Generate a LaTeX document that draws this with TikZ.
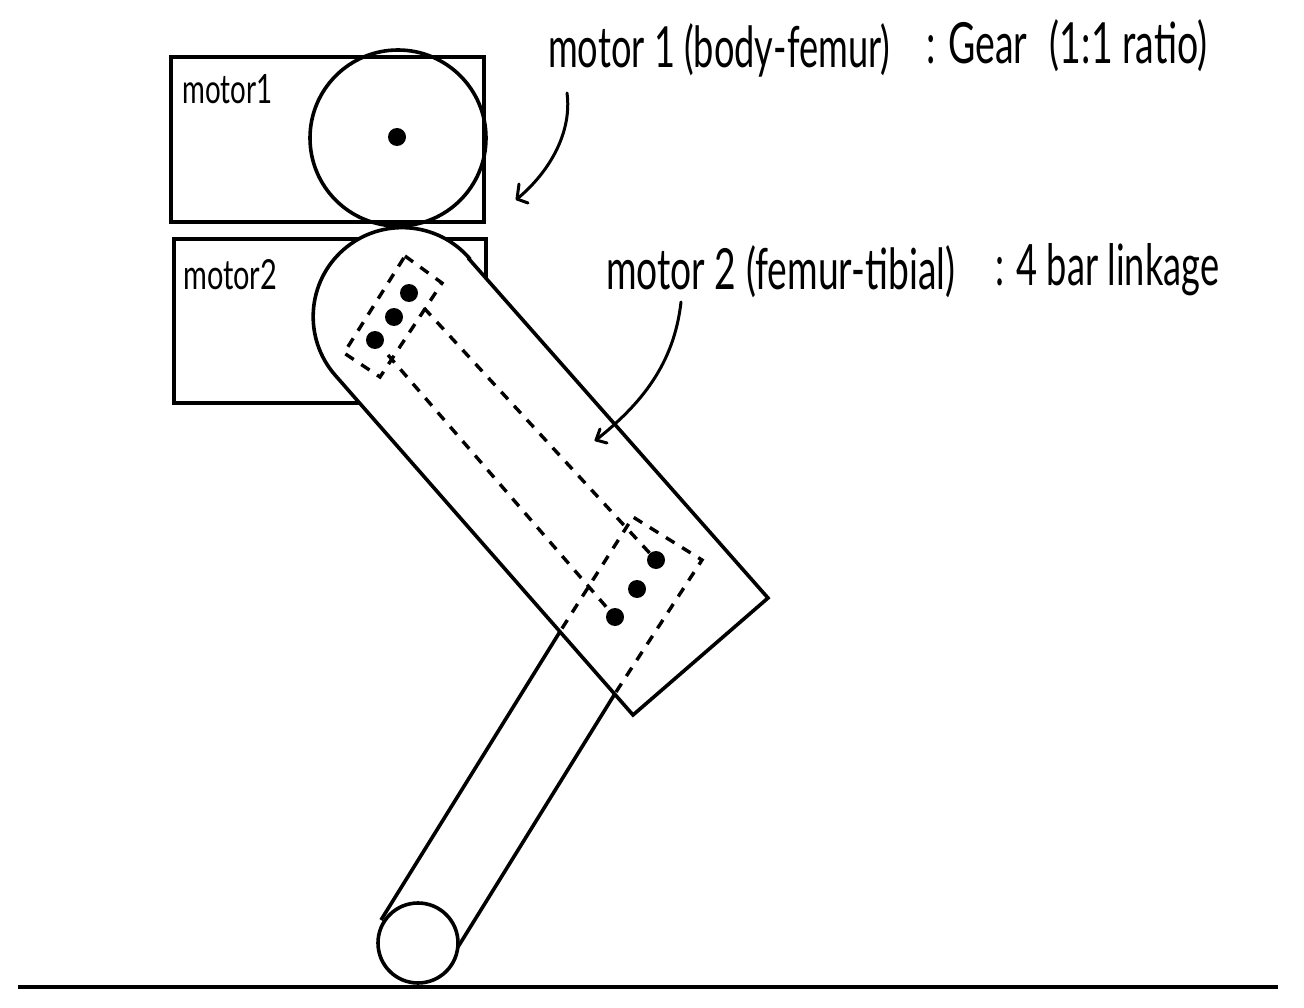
\documentclass[tikz,border=0pt]{standalone}
\usepackage{fontspec}
\setmainfont{Lato}
\tikzset{
 shape line/.style={draw=black,line width=3.6pt,line join=miter},
 dash line/.style={draw=black,line width=3.4pt,dash pattern=on 10pt off 9pt},
 pin dot/.style={circle,fill=black,inner sep=0pt,minimum size=18pt},
 wheel/.style={circle,draw=black,line width=3.6pt,fill=white,inner sep=0pt},
 hand/.style={inner sep=0pt,text=black,anchor=west},
 note arrow/.style={draw=black,line width=3pt,line cap=round,line join=round},
}
\newcommand{\handtext}[3]{\resizebox{#1pt}{#2pt}{#3}}
\begin{document}
\begin{tikzpicture}[x=1pt,y=-1pt]
\useasboundingbox (0,0) rectangle (1304,1008);
% ground
\coordinate (g1) at (18,987);
\coordinate (g2) at (1278,987);
\draw[shape line] (g1) -- (g2);
% motor boxes
\node[shape line,fill=white,minimum width=313pt,minimum height=165pt,inner sep=0pt,anchor=north west] (motorA) at (169.2,55.2) {};
\node[shape line,fill=white,minimum width=312pt,minimum height=164pt,inner sep=0pt,anchor=north west] (motorB) at (172.2,237.2) {};
\node[wheel,minimum size=176pt,fill=none] (gear) at (398,138) {};
% tibia
\coordinate (t1) at (561,630);
\coordinate (t2) at (381,920);
\coordinate (t3) at (616,692);
\coordinate (t4) at (453,955);
\draw[shape line] (t1) -- (t2);
\draw[shape line] (t3) -- (t4);
\node[wheel,minimum size=80pt] (foot) at (418,943) {};
% femur
\coordinate (f1) at (469,259);
\coordinate (f2) at (768,598);
\coordinate (f3) at (633,715);
\coordinate (f4) at (335,375);
\draw[shape line,fill=white] (f1) -- (f2) -- (f3) -- (f4)
  arc[start angle=221,end angle=41,radius=89pt] -- cycle;
% dashed parts
\coordinate (a1) at (405,256);
\coordinate (a2) at (442,283);
\coordinate (a3) at (380,377);
\coordinate (a4) at (344,353);
\draw[dash line] (a1) -- (a2) -- (a3) -- (a4) -- cycle;
\coordinate (b1) at (633,517);
\coordinate (b2) at (702,560);
\draw[dash line] (t3) -- (b2) -- (b1) -- (t1);
\coordinate (l1) at (424,308);
\coordinate (l2) at (388,355);
\node[pin dot] (d1) at (409,293) {};
\node[pin dot] (d2) at (394,317) {};
\node[pin dot] (d3) at (375,340) {};
\node[pin dot] (d4) at (656,560) {};
\node[pin dot] (d5) at (637,589) {};
\node[pin dot] (d6) at (615,617) {};
\node[pin dot] (axle) at (397,137) {};
\draw[dash line] (l1) -- (d4);
\draw[dash line] (l2) -- (d6);
% labels
\node[hand] (tA) at (182,89) {\handtext{90}{29}{motor1}};
\node[hand] (tB) at (183,275) {\handtext{94}{30}{motor2}};
\node[hand] (n1) at (548,50) {\handtext{342}{44}{motor 1 (body-femur)}};
\node[hand] (n2) at (926,46) {\handtext{281}{44}{: Gear\hspace{0.6em}(1:1 ratio)}};
\node[hand] (n3) at (606,272) {\handtext{349}{44}{motor 2 (femur-tibial)}};
\node[hand] (n4) at (995,270) {\handtext{224}{42}{: 4 bar linkage}};
% note arrows
\coordinate (s1) at (567,93);
\coordinate (e1) at (517,199);
\coordinate (s2) at (681,302);
\coordinate (e2) at (596,440);
\draw[note arrow] (s1) .. controls (572,130) and (552,170) .. (e1);
\coordinate (h1a) at (519,184);
\coordinate (h1b) at (528,203);
\draw[note arrow] (h1a) -- (e1) -- (h1b);
\draw[note arrow] (s2) .. controls (674,365) and (640,405) .. (e2);
\coordinate (h2a) at (600,429);
\coordinate (h2b) at (607,443);
\draw[note arrow] (h2a) -- (e2) -- (h2b);
\end{tikzpicture}
\end{document}
